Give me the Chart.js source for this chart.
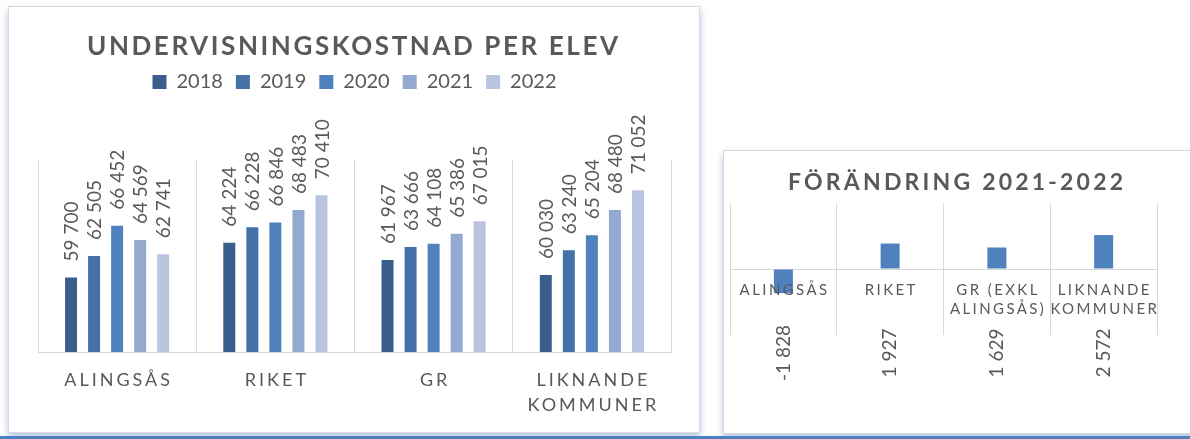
<!DOCTYPE html>
<html>
<head>
<meta charset="utf-8">
<script src="https://cdn.jsdelivr.net/npm/chart.js@4.4.0/dist/chart.umd.min.js"></script>
<style>
  body { margin: 0; width: 1190px; height: 439px; background: #fff; position: relative; overflow: hidden; font-family: Lato, sans-serif; }
  .panel { position: absolute; background: #fff; border: 1px solid #d9d9d9; box-shadow: 0 4px 7px rgba(79, 129, 189, 0.45); }
  #p1 { left: 8px; top: 6px; width: 690px; height: 425px; }
  #p2 { left: 723px; top: 150px; width: 490px; height: 282px; }
  .band { position: absolute; left: 0; right: 0; top: 436px; height: 3px; background: #4f7fc0; }
  canvas { display: block; }
</style>
</head>
<body>
<div class="band"></div>
<div class="panel" id="p1"><canvas id="costChart" width="690" height="425"></canvas></div>
<div class="panel" id="p2"><canvas id="changeChart" width="466" height="282"></canvas></div>
<script>
// Undervisningskostnad per elev (kr)
const categories = ['ALINGSÅS', 'RIKET', 'GR', ['LIKNANDE', 'KOMMUNER']];
const years = ['2018', '2019', '2020', '2021', '2022'];
const cost2018 = [59700, 64224, 61967, 60030];
const cost2019 = [62505, 66228, 63666, 63240];
const cost2020 = [66452, 66846, 64108, 65204];
const cost2021 = [64569, 68483, 65386, 68480];
const cost2022 = [62741, 70410, 67015, 71052];
const yearColors = ['#3a5e8c', '#4371a8', '#4f81bd', '#95a8d0', '#b9c5e0'];

// Förändring 2021-2022
const changeCategories = ['ALINGSÅS', 'RIKET', ['GR (EXKL', 'ALINGSÅS)'], ['LIKNANDE', 'KOMMUNER']];
const change = [-1828, 1927, 1629, 2572];

const grey = '#595959';
const gridGrey = '#d9d9d9';

function fmt(v) {
  const s = String(Math.abs(v)).replace(/\B(?=(\d{3})+(?!\d))/g, ' ');
  return (v < 0 ? '-' : '') + s;
}

// draws title, category labels (letter spaced) and rotated value labels
const textPlugin = {
  id: 'texts',
  afterDraw(chart, args, o) {
    const ctx = chart.ctx;
    ctx.save();
    ctx.fillStyle = grey;

    // title, spread to a given width
    ctx.font = o.titleFont;
    ctx.letterSpacing = '0px';
    const w0 = ctx.measureText(o.title).width;
    const ls = (o.titleWidth - w0) / (o.title.length - 1);
    ctx.letterSpacing = ls + 'px';
    ctx.textAlign = 'left';
    ctx.textBaseline = 'alphabetic';
    ctx.fillText(o.title, o.titleX - o.titleWidth / 2, o.titleY);

    // category labels
    const xs = chart.scales.x;
    ctx.font = o.catFont;
    ctx.letterSpacing = o.catSpacing + 'px';
    ctx.textAlign = 'center';
    ctx.textBaseline = 'middle';
    chart.data.labels.forEach((lab, i) => {
      const lines = Array.isArray(lab) ? lab : [lab];
      const x = xs.getPixelForValue(i) + o.catSpacing / 2;
      lines.forEach((ln, j) => ctx.fillText(ln, x, o.catY + j * o.catLine));
    });

    // value labels, rotated
    ctx.font = o.valueFont;
    ctx.letterSpacing = '0px';
    chart.data.datasets.forEach((ds, di) => {
      chart.getDatasetMeta(di).data.forEach((bar, i) => {
        ctx.save();
        if (o.valuesBelow) {
          ctx.translate(bar.x, chart.chartArea.bottom + o.valueOffset);
          ctx.rotate(-Math.PI / 2);
          ctx.textAlign = 'center';
        } else {
          ctx.translate(bar.x + 1, bar.y - o.valueOffset);
          ctx.rotate(-Math.PI / 2);
          ctx.textAlign = 'left';
        }
        ctx.textBaseline = 'middle';
        ctx.fillText(fmt(ds.data[i]), 0, 0);
        ctx.restore();
      });
    });
    ctx.restore();
  }
};

// adds empty room under the legend
const legendGap = {
  id: 'legendGap',
  beforeInit(chart, args, opts) {
    if (!chart.legend) return;
    const fit = chart.legend.fit;
    chart.legend.fit = function () {
      fit.call(this);
      this.height += opts.extra;
    };
  }
};

const seriesData = [cost2018, cost2019, cost2020, cost2021, cost2022];

new Chart(document.getElementById('costChart'), {
  type: 'bar',
  data: {
    labels: categories,
    datasets: years.map((y, i) => ({
      label: y,
      data: seriesData[i],
      backgroundColor: yearColors[i],
      borderWidth: 0,
      categoryPercentage: 0.728,
      barPercentage: 0.52
    }))
  },
  plugins: [textPlugin, legendGap],
  options: {
    responsive: false,
    animation: false,
    layout: { padding: { top: 52, left: 29, right: 28, bottom: 80 } },
    scales: {
      x: {
        grid: { color: gridGrey, drawTicks: false, offset: true },
        border: { color: gridGrey },
        ticks: { display: false }
      },
      y: { display: false, min: 50000, max: 75000 }
    },
    plugins: {
      tooltip: { enabled: false },
      legend: {
        position: 'top',
        labels: {
          color: grey,
          font: { family: 'Lato', size: 20 },
          boxWidth: 14,
          boxHeight: 14,
          padding: 13
        }
      },
      legendGap: { extra: 58 },
      texts: {
        title: 'UNDERVISNINGSKOSTNAD PER ELEV',
        titleFont: 'bold 26px Lato',
        titleWidth: 531,
        titleX: 343.5,
        titleY: 48,
        catFont: '18px Lato',
        catSpacing: 3,
        catY: 373,
        catLine: 25,
        valueFont: '19px Lato',
        valueOffset: 16,
        valuesBelow: false
      }
    }
  }
});

new Chart(document.getElementById('changeChart'), {
  type: 'bar',
  data: {
    labels: changeCategories,
    datasets: [{
      label: 'Förändring 2021-2022',
      data: change,
      backgroundColor: '#4f81bd',
      borderWidth: 0,
      categoryPercentage: 0.178,
      barPercentage: 1
    }]
  },
  plugins: [textPlugin],
  options: {
    responsive: false,
    animation: false,
    layout: { padding: { top: 52, left: 6, right: 33, bottom: 98 } },
    scales: {
      x: {
        grid: { color: gridGrey, drawTicks: false, offset: true },
        border: { display: false },
        ticks: { display: false }
      },
      y: {
        min: -5000,
        max: 5000,
        ticks: { display: false, stepSize: 5000 },
        border: { display: false },
        grid: {
          drawTicks: false,
          color: ctx => (ctx.tick && ctx.tick.value === 0 ? gridGrey : 'rgba(0,0,0,0)')
        }
      }
    },
    plugins: {
      tooltip: { enabled: false },
      legend: { display: false },
      texts: {
        title: 'FÖRÄNDRING 2021-2022',
        titleFont: 'bold 23px Lato',
        titleWidth: 335,
        titleX: 231.5,
        titleY: 39,
        catFont: '15px Lato',
        catSpacing: 2.4,
        catY: 139,
        catLine: 19,
        valueFont: '19px Lato',
        valueOffset: 18,
        valuesBelow: true
      }
    }
  }
});
</script>
</body>
</html>
